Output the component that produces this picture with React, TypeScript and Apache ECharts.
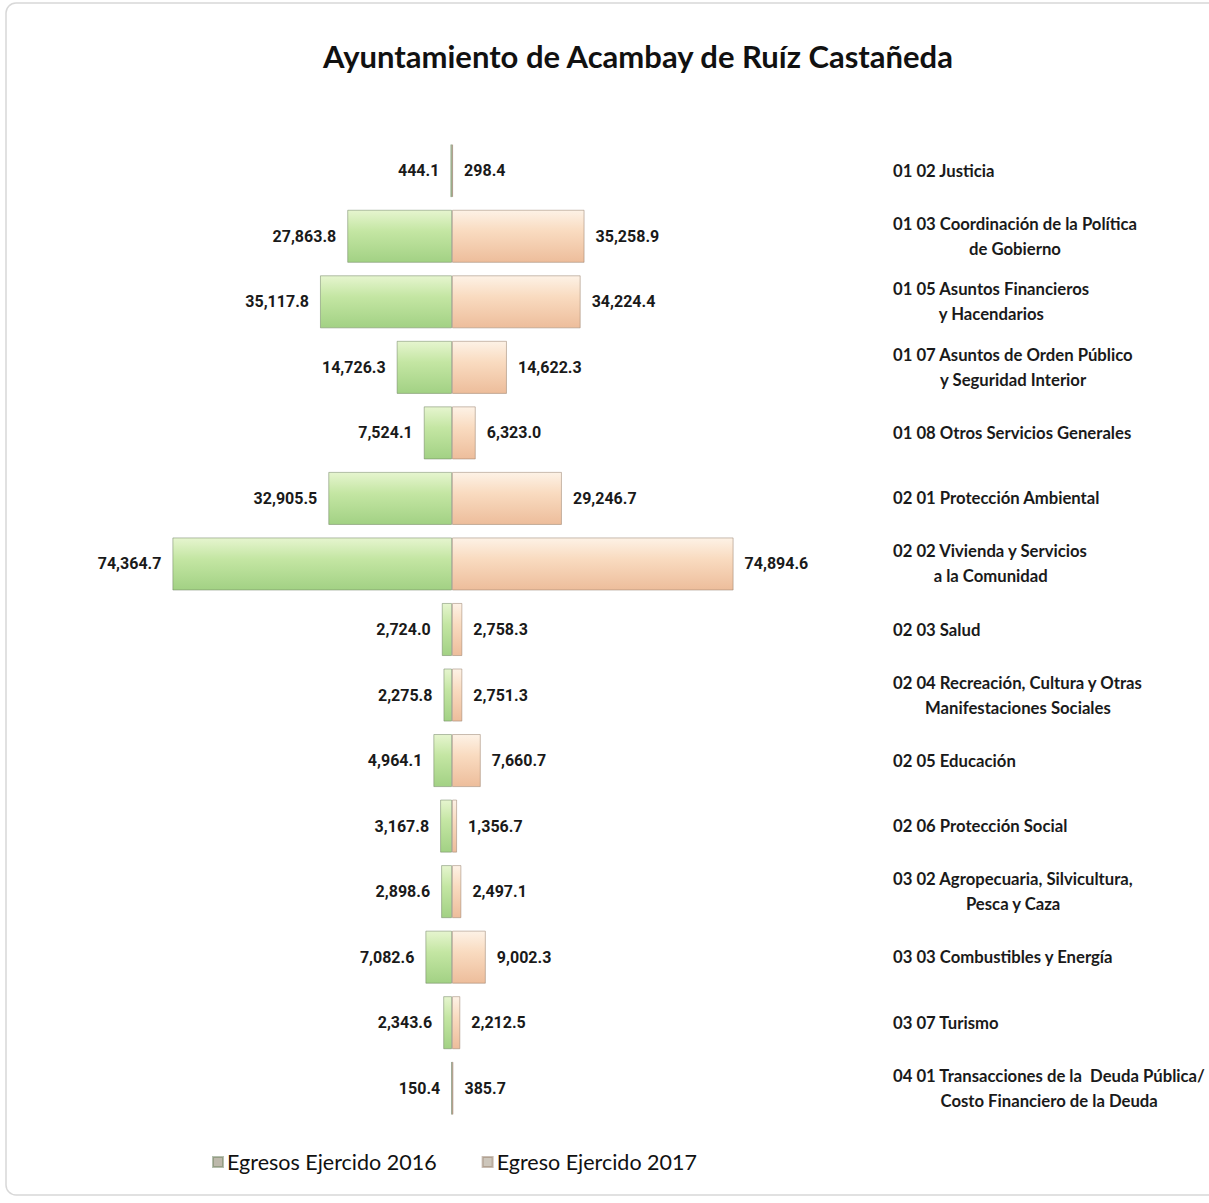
import React, { useEffect, useRef } from "react";
import * as echarts from "echarts";

const categories = [
  "01 02 Justicia",
  "01 03 Coordinación de la Política\nde Gobierno",
  "01 05 Asuntos Financieros\ny Hacendarios",
  "01 07 Asuntos de Orden Público\ny Seguridad Interior",
  "01 08 Otros Servicios Generales",
  "02 01 Protección Ambiental",
  "02 02 Vivienda y Servicios\na la Comunidad",
  "02 03 Salud",
  "02 04 Recreación, Cultura y Otras\nManifestaciones Sociales",
  "02 05 Educación",
  "02 06 Protección Social",
  "03 02 Agropecuaria, Silvicultura,\nPesca y Caza",
  "03 03 Combustibles y Energía",
  "03 07 Turismo",
  "04 01 Transacciones de la  Deuda Pública/\nCosto Financiero de la Deuda",
];

const values2016 = [
  444.1, 27863.8, 35117.8, 14726.3, 7524.1, 32905.5, 74364.7, 2724.0, 2275.8,
  4964.1, 3167.8, 2898.6, 7082.6, 2343.6, 150.4,
];

const values2017 = [
  298.4, 35258.9, 34224.4, 14622.3, 6323.0, 29246.7, 74894.6, 2758.3, 2751.3,
  7660.7, 1356.7, 2497.1, 9002.3, 2212.5, 385.7,
];

const seriesNames = ["Egresos Ejercido 2016", "Egreso Ejercido 2017"];
const titleText = "Ayuntamiento de Acambay de Ruíz Castañeda";

const fmt = (v: number) =>
  Math.abs(v).toLocaleString("en-US", {
    minimumFractionDigits: 1,
    maximumFractionDigits: 1,
  });

export default function App() {
  const ref = useRef<HTMLDivElement>(null);

  useEffect(() => {
    document.body.style.margin = "0";
    if (!ref.current) return;
    const chart = echarts.init(ref.current, undefined, { renderer: "svg" });

    const green = new echarts.graphic.LinearGradient(0, 0, 0, 1, [
      { offset: 0, color: "#e6f5cf" },
      { offset: 0.4, color: "#c4e6a3" },
      { offset: 1, color: "#a2d184" },
    ]);
    const peach = new echarts.graphic.LinearGradient(0, 0, 0, 1, [
      { offset: 0, color: "#fdf2e6" },
      { offset: 0.4, color: "#f9dbc0" },
      { offset: 1, color: "#edbd9b" },
    ]);

    const labelStyle = {
      show: true,
      distance: 11,
      fontFamily: "Roboto, sans-serif",
      fontWeight: "bold" as const,
      fontSize: 16,
      color: "#1a1a1a",
      formatter: (p: any) => fmt(p.value),
    };

    const catFont = {
      fontFamily: "Lato, sans-serif",
      fontWeight: "bold" as const,
      fontSize: 16.7,
      color: "#1a1a1a",
      lineHeight: 25,
    };

    chart.setOption({
      animation: false,
      backgroundColor: "#ffffff",
      title: {
        text: titleText,
        left: 323,
        top: 40,
        padding: 0,
        textStyle: {
          fontFamily: "Lato, sans-serif",
          fontWeight: "bold",
          fontSize: 31,
          color: "#111",
        },
      },
      graphic: [
        {
          type: "rect",
          silent: true,
          z: -10,
          shape: { x: 6, y: 3, width: 1220, height: 1192, r: 10 },
          style: { fill: "none", stroke: "#d8d8d8", lineWidth: 1.5 },
        },
      ],
      legend: {
        left: 207,
        top: 1146,
        itemWidth: 10,
        itemHeight: 10,
        itemGap: 45,
        icon: "rect",
        textStyle: {
          fontFamily: "Lato, sans-serif",
          fontSize: 21.5,
          color: "#111",
          padding: [0, 0, 0, -1],
        },
        data: [
          { name: seriesNames[0], itemStyle: { color: "#bdb9ab" } },
          { name: seriesNames[1], itemStyle: { color: "#cdc6bb" } },
        ],
      },
      grid: {
        left: 76,
        right: 381,
        top: 138,
        bottom: 82,
        containLabel: false,
        outerBoundsMode: "none",
      },
      xAxis: {
        type: "value",
        min: -100000,
        max: 100000,
        show: false,
      },
      yAxis: {
        type: "category",
        data: categories,
        inverse: true,
        position: "right",
        axisLine: { show: false },
        axisTick: { show: false },
        splitLine: { show: false },
        axisLabel: {
          margin: 65,
          align: "left",
          formatter: (v: string) => {
            const lines = v.split("\n");
            if (lines.length === 1) return `{a|${lines[0]}}`;
            return `{a|${lines[0]}}\n{b|${lines[1]}}`;
          },
          rich: {
            a: { ...catFont, align: "left" },
            b: { ...catFont, align: "center" },
          },
        },
      },
      series: [
        {
          name: seriesNames[0],
          type: "bar",
          data: values2016.map((v) => -v),
          barGap: "-100%",
          barCategoryGap: "19%",
          itemStyle: {
            color: green,
            borderColor: "rgba(110,130,95,0.5)",
            borderWidth: 1,
          },
          label: { ...labelStyle, position: "left" },
        },
        {
          name: seriesNames[1],
          type: "bar",
          data: values2017,
          barGap: "-100%",
          barCategoryGap: "19%",
          itemStyle: {
            color: peach,
            borderColor: "rgba(150,125,105,0.5)",
            borderWidth: 1,
          },
          label: { ...labelStyle, position: "right" },
        },
      ],
    });

    return () => chart.dispose();
  }, []);

  return <div ref={ref} style={{ width: 1209, height: 1203 }} />;
}
